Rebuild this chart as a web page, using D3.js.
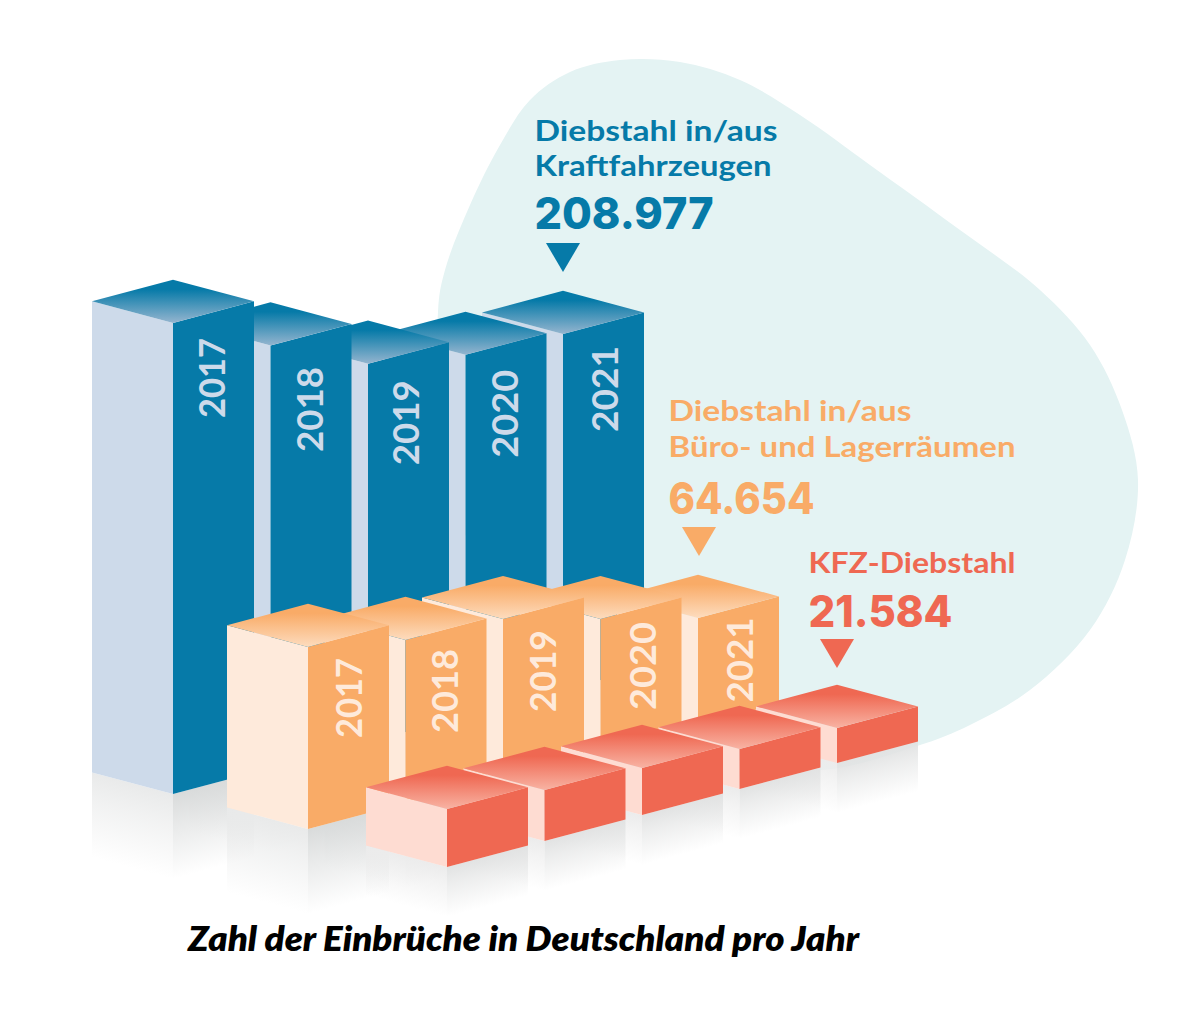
<!DOCTYPE html>
<html><head><meta charset="utf-8">
<script src="https://cdn.jsdelivr.net/npm/d3@7/dist/d3.min.js"></script>
<style>
html,body{margin:0;padding:0;background:#fff}
svg{display:block}
text{font-family:Lato,"Open Sans",sans-serif}
</style></head><body><svg id="c" width="1200" height="1035"></svg>
<script>
const years = ["2017","2018","2019","2020","2021"];
const kfzInnenValues = [276500,248000,222000,212000,208977];
const bueroValues = [110000,98500,95400,79700,64654];
const kfzValues = [35800,31500,29000,24700,21584];
const chartTitle = "Zahl der Einbrüche in Deutschland pro Jahr";

const series = [
 {key:"blue", values:kfzInnenValues, x0:173, y0:794, pxMax:356, ref:208977,
  right:"#067aa8", left:"#cddaea", topA:"#067aa8", topB:"#95b5cf", label:"#cddaea", labelDx:[38,38.5,37,38.5,41], labelDy:[55,64,59,59,55], labelLen:[80,85,85,88,86], refl:85, rl:"#e9eaea", rr:"#d9dbdb",
  head:["Diebstahl in/aus","Kraftfahrzeugen"], hx:534.5, hy:[141,176], hw:[243,237], num:"208.977", ny:229, nw:179, tri:563, ty:243},
 {key:"orange", values:bueroValues, x0:308, y0:829, pxMax:107, ref:64654,
  right:"#f9ab67", left:"#feeadb", topA:"#f9ab67", topB:"#fddcbe", label:"#feeadb", labelDx:[40,38.5,39,41.5,41], labelDy:[51,51,52,47,42], labelLen:[80,84,82,88,85], refl:85, rl:"#e9eaea", rr:"#d9dbdb",
  head:["Diebstahl in/aus","Büro- und Lagerräumen"], hx:668.5, hy:[421,457], hw:[243,347], num:"64.654", ny:514, nw:146, tri:699, ty:527},
 {key:"red", values:kfzValues, x0:447, y0:867, pxMax:35, ref:21584,
  right:"#ef6852", left:"#fedcd2", topA:"#ef6852", topB:"#f8b3a3", label:null, refl:50, rl:"#ececec", rr:"#e2e3e3",
  head:["KFZ-Diebstahl"], hx:808.5, hy:[573], hw:[207], num:"21.584", ny:627, nw:144, tri:837, ty:639}
];

const hw = 81, slope = 21.6/81, step = 97.5;
const xIdx = d3.scaleLinear().domain([0,4]).range([0,4*step]);
const svg = d3.select("#c");
const defs = svg.append("defs");

// decorative background blob
const blobPts = [[438,312],[445,270],[470,205],[500,145],[530,100],[570,72],[620,60],[680,62],[740,80],[800,115],[870,165],[960,230],[1040,290],[1090,345],[1122,410],[1138,480],[1125,560],[1090,630],[1030,690],[970,725],[917,746],[800,770],[600,700],[450,500]];
svg.append("path").attr("fill","#e4f3f3")
  .attr("d", d3.line().curve(d3.curveCatmullRomClosed.alpha(0.5))(blobPts));

const poly = pts => "M"+pts.map(p=>p.join(",")).join("L")+"Z";

function fadeGrad(id, color, P, dirX, L){
  // fade lines run parallel to the bar's lower edge
  const len = Math.hypot(hw,slope*hw);
  const nx = dirX*slope*hw/len, ny = hw/len, dist = L*ny;
  const g = defs.append("linearGradient").attr("id",id).attr("gradientUnits","userSpaceOnUse")
    .attr("x1",P[0]).attr("y1",P[1]).attr("x2",P[0]+nx*dist).attr("y2",P[1]+ny*dist);
  g.append("stop").attr("offset",0).attr("stop-color",color).attr("stop-opacity",1);
  g.append("stop").attr("offset",0.35).attr("stop-color",color).attr("stop-opacity",0.62);
  g.append("stop").attr("offset",1).attr("stop-color",color).attr("stop-opacity",0);
}

series.forEach(s=>{
  s.h = d3.scaleLinear().domain([0,s.ref]).range([0,s.pxMax]);
  const t = defs.append("linearGradient").attr("id","top-"+s.key).attr("x1",0).attr("y1",0).attr("x2",0).attr("y2",1);
  t.append("stop").attr("offset",0.22).attr("stop-color",s.topA);
  t.append("stop").attr("offset",1).attr("stop-color",s.topB);
  s.bars = s.values.map((v,i)=>{
    const x = s.x0 + xIdx(i), yb = s.y0 - xIdx(i)*slope, yt = yb - s.h(v);
    return {s,i,v,x,yb,yt,year:years[i]};
  }).reverse();
});

// reflections below everything
series.forEach(s=>{
  const g = svg.append("g");
  s.bars.forEach(b=>{
    const d = hw*slope, L = s.refl;
    const idL = `rl-${s.key}-${b.i}`, idR = `rr-${s.key}-${b.i}`;
    fadeGrad(idL, s.rl, [b.x,b.yb], -1, L);
    fadeGrad(idR, s.rr, [b.x,b.yb], 1, L);
    g.append("path").attr("fill",`url(#${idL})`).attr("d",poly([[b.x-hw,b.yb-d],[b.x,b.yb],[b.x,b.yb+L],[b.x-hw,b.yb-d+L]]));
    g.append("path").attr("fill",`url(#${idR})`).attr("d",poly([[b.x,b.yb],[b.x+hw,b.yb-d],[b.x+hw,b.yb-d+L],[b.x,b.yb+L]]));
  });
});

// bars, back to front
series.forEach(s=>{
  const g = svg.append("g").attr("class","series-"+s.key);
  const bar = g.selectAll("g").data(s.bars).join("g");
  const d = hw*slope;
  bar.append("path").attr("fill",s.left).attr("d",b=>poly([[b.x-hw,b.yt-d],[b.x,b.yt],[b.x,b.yb],[b.x-hw,b.yb-d]]));
  bar.append("path").attr("fill",s.right).attr("d",b=>poly([[b.x,b.yt],[b.x+hw,b.yt-d],[b.x+hw,b.yb-d],[b.x,b.yb]]));
  bar.append("path").attr("fill",`url(#top-${s.key})`).attr("d",b=>poly([[b.x-hw,b.yt-d],[b.x,b.yt-2*d],[b.x+hw,b.yt-d],[b.x,b.yt]]));
  if(s.label){
    bar.append("text").text(b=>b.year)
      .attr("text-anchor","middle").attr("dominant-baseline","central")
      .attr("font-size",36).attr("font-weight",700).attr("fill",s.label)
      .attr("textLength",b=>s.labelLen[b.i]).attr("lengthAdjust","spacingAndGlyphs")
      .attr("transform",b=>`translate(${b.x+s.labelDx[b.i]},${b.yt+s.labelDy[b.i]}) rotate(-90)`);
  }
});

// headings
series.forEach(s=>{
  const g = svg.append("g").attr("fill",s.right);
  s.head.forEach((line,i)=>{
    g.append("text").text(line).attr("x",s.hx).attr("y",s.hy[i]).attr("font-size",28).attr("font-weight",700)
      .attr("textLength",s.hw[i]).attr("lengthAdjust","spacingAndGlyphs");
  });
  g.append("text").text(s.num).attr("x",s.hx).attr("y",s.ny).attr("font-size",44).attr("font-weight",800)
    .style("font-family","Inter,Lato,sans-serif")
    .attr("textLength",s.nw).attr("lengthAdjust","spacingAndGlyphs");
  g.append("path").attr("d",poly([[s.tri-17,s.ty],[s.tri+17,s.ty],[s.tri,s.ty+29]]));
});

svg.append("text").text(chartTitle).attr("x",188).attr("y",951).attr("font-size",33)
  .attr("font-weight",800).attr("font-style","italic").attr("fill","#000")
  .attr("textLength",671).attr("lengthAdjust","spacingAndGlyphs");
</script></body></html>
